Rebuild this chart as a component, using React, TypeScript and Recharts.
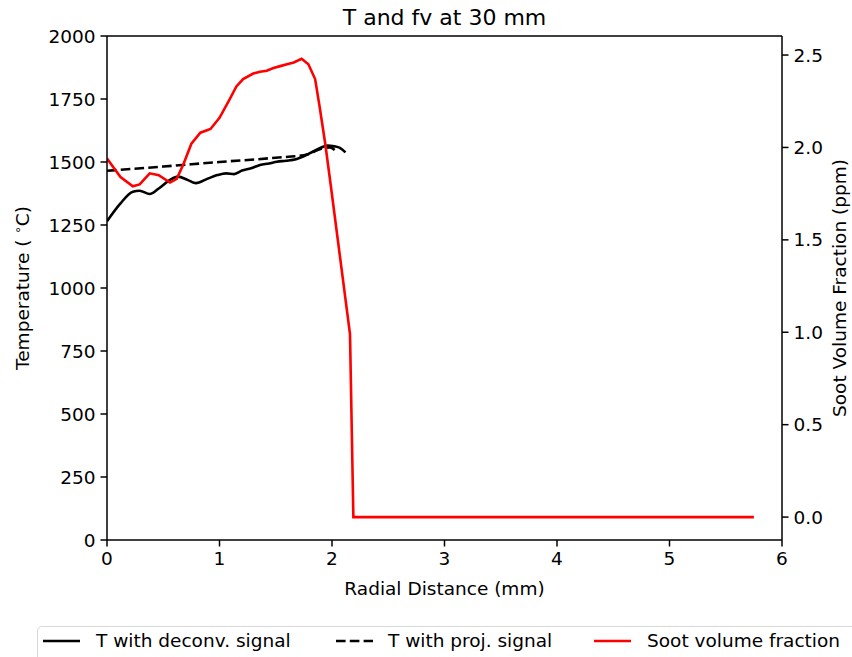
import React from 'react';
import {
  ComposedChart, Line, XAxis, YAxis, ReferenceLine,
} from 'recharts';

// radial distance (mm) / temperature (°C), deconvolved signal
const deconvX = [0, 0.12, 0.23, 0.29, 0.38, 0.46, 0.56, 0.63, 0.72, 0.79, 0.89, 0.98, 1.06, 1.13, 1.2, 1.28, 1.36, 1.44, 1.51, 1.59, 1.68, 1.8, 1.89, 1.96, 2.02, 2.07, 2.12];
const deconvT = [1265, 1336, 1382, 1386, 1373, 1395, 1429, 1442, 1428, 1416, 1433, 1448, 1455, 1452, 1466, 1475, 1488, 1494, 1501, 1505, 1511, 1534, 1555, 1565, 1562, 1556, 1538];

// projected signal
const projX = [0, 0.5, 1.0, 1.5, 1.78, 1.84, 1.93, 1.98, 2.03];
const projT = [1465, 1482, 1500, 1517, 1530, 1541, 1556, 1558, 1545];

// soot volume fraction (ppm)
const sootX = [0, 0.12, 0.23, 0.29, 0.38, 0.46, 0.56, 0.62, 0.68, 0.75, 0.83, 0.92, 1.0, 1.09, 1.15, 1.21, 1.3, 1.36, 1.42, 1.48, 1.54, 1.6, 1.66, 1.73, 1.79, 1.85, 1.89, 1.94, 1.99, 2.16, 2.19, 5.75];
const sootFv = [1.94, 1.84, 1.79, 1.8, 1.86, 1.85, 1.81, 1.83, 1.91, 2.02, 2.08, 2.1, 2.16, 2.26, 2.33, 2.37, 2.4, 2.41, 2.415, 2.43, 2.44, 2.45, 2.46, 2.48, 2.45, 2.37, 2.22, 2.02, 1.79, 0.99, 0, 0];

const xTicks = [0, 1, 2, 3, 4, 5, 6];
const tTicks = [0, 250, 500, 750, 1000, 1250, 1500, 1750, 2000];
const fvTicks = [0, 0.5, 1.0, 1.5, 2.0, 2.5];

const deconvData = deconvX.map((x, i) => ({ x, T: deconvT[i] }));
const projData = projX.map((x, i) => ({ x, T: projT[i] }));
const sootData = sootX.map((x, i) => ({ x, fv: sootFv[i] }));

const font = '"DejaVu Sans", sans-serif';
const tickStyle = { fontSize: 18.5, fill: '#000', fontFamily: font };
const txt: React.CSSProperties = { position: 'absolute', fontFamily: font, fontSize: 18.5, color: '#000', whiteSpace: 'nowrap', lineHeight: 1 };

export default function App() {
  return (
    <div style={{ position: 'absolute', left: 0, top: 0, width: 852, height: 657, background: '#fff', overflow: 'hidden' }}>
      <ComposedChart width={852} height={657} margin={{ top: 36, right: 20, bottom: 77, left: 27 }}>
        <XAxis
          dataKey="x" type="number" domain={[0, 6]} ticks={xTicks} allowDataOverflow
          height={40} tickSize={6.5} tickMargin={5} tick={tickStyle}
          axisLine={{ stroke: '#000', strokeWidth: 1.5 }} tickLine={{ stroke: '#000', strokeWidth: 1.5 }}
        />
        <YAxis
          yAxisId="left" type="number" domain={[0, 2000]} ticks={tTicks} allowDataOverflow
          width={80} tickSize={6.5} tickMargin={5} tick={tickStyle}
          axisLine={{ stroke: '#000', strokeWidth: 1.5 }} tickLine={{ stroke: '#000', strokeWidth: 1.5 }}
        />
        <YAxis
          yAxisId="right" orientation="right" type="number" domain={[-0.124, 2.603]} ticks={fvTicks} allowDataOverflow
          width={50} tickSize={6.5} tickMargin={5} tick={tickStyle}
          tickFormatter={(v: number) => v.toFixed(1)}
          axisLine={{ stroke: '#000', strokeWidth: 1.5 }} tickLine={{ stroke: '#000', strokeWidth: 1.5 }}
        />
        <ReferenceLine yAxisId="left" y={2000} stroke="#000" strokeWidth={1.5} />
        <Line yAxisId="left" data={deconvData} dataKey="T" type="monotone" stroke="#000" strokeWidth={2.6} dot={false} isAnimationActive={false} />
        <Line yAxisId="left" data={projData} dataKey="T" type="monotone" stroke="#000" strokeWidth={2.6} strokeDasharray="9.6 4.2" dot={false} isAnimationActive={false} />
        <Line yAxisId="right" data={sootData} dataKey="fv" type="linear" stroke="#ff0000" strokeWidth={2.6} dot={false} isAnimationActive={false} />
      </ComposedChart>

      <div style={{ ...txt, left: 444.5, top: 7, transform: 'translateX(-50%)', fontSize: 22 }}>T and fv at 30 mm</div>
      <div style={{ ...txt, left: 444.5, top: 580, transform: 'translateX(-50%)' }}>Radial Distance (mm)</div>
      <div style={{ ...txt, left: 22, top: 288, transform: 'translate(-50%, -50%) rotate(-90deg)' }}>Temperature ( <sup style={{ fontSize: 12 }}>∘</sup>C)</div>
      <div style={{ ...txt, left: 840, top: 288, transform: 'translate(-50%, -50%) rotate(-90deg)' }}>Soot Volume Fraction (ppm)</div>

      <div style={{ position: 'absolute', left: 37, top: 626, width: 830, height: 40, border: '1.5px solid #d9d9d9', borderRadius: 5, boxSizing: 'border-box' }} />
      <svg style={{ position: 'absolute', left: 0, top: 630 }} width={852} height={24}>
        <line x1={43} x2={80} y1={11} y2={11} stroke="#000" strokeWidth={2.6} />
        <line x1={336} x2={373} y1={11} y2={11} stroke="#000" strokeWidth={2.6} strokeDasharray="9.6 4.2" />
        <line x1={594} x2={631} y1={11} y2={11} stroke="#ff0000" strokeWidth={2.6} />
      </svg>
      <div style={{ ...txt, left: 96, top: 632 }}>T with deconv. signal</div>
      <div style={{ ...txt, left: 388, top: 632 }}>T with proj. signal</div>
      <div style={{ ...txt, left: 647, top: 632 }}>Soot volume fraction</div>
    </div>
  );
}
